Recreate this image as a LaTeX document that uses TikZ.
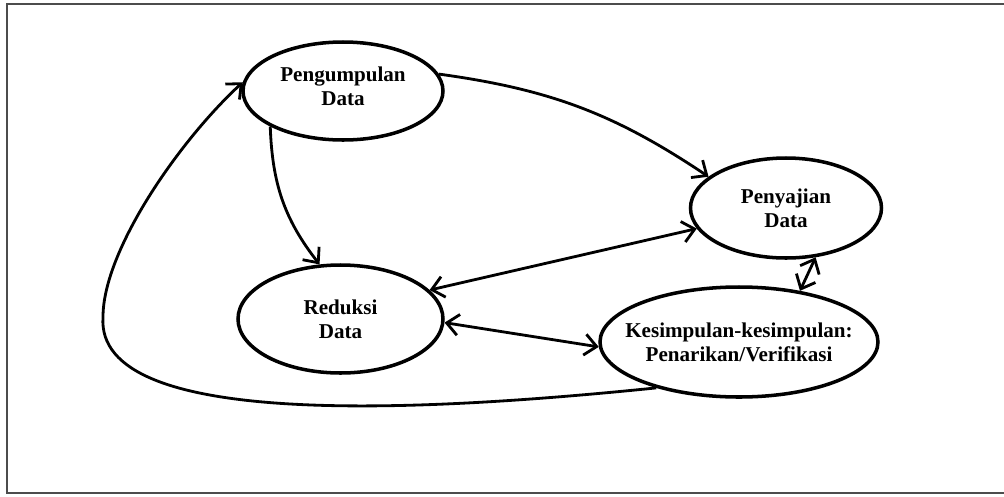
\documentclass[tikz,border=0pt]{standalone}
\usepackage{fontspec}
\setmainfont{Liberation Serif}
\usetikzlibrary{shapes.geometric,arrows.meta}

\begin{document}
\begin{tikzpicture}[
    stage/.style={ellipse, draw, line width=2pt, inner sep=0pt},
    stagetext/.style={align=center, font=\bfseries\fontsize{12}{13.6}\selectfont},
    flow/.style={line width=1.6pt},
    >={Straight Barb[length=2.4mm,width=4.2mm]}
  ]

    % Frame of the page
    \useasboundingbox (0,0) rectangle (20.08,-9.92);
    \draw[black!70, line width=1.1pt] (20.08,-0.08) -- (0.14,-0.08) -- (0.14,-9.86) -- (20.08,-9.86);

    % Draw the four stages
    \node[stage, minimum width=4.0cm, minimum height=1.96cm,
          label={[stagetext, yshift=1mm]center:Pengumpulan\\Data}] (pengumpulan) at (6.86,-1.82) {};
    \node[stage, minimum width=3.82cm, minimum height=2.0cm,
          label={[stagetext]center:Penyajian\\Data}] (penyajian) at (15.72,-4.16) {};
    \node[stage, minimum width=4.1cm, minimum height=2.16cm,
          label={[stagetext]center:Reduksi\\Data}] (reduksi) at (6.81,-6.38) {};
    \node[stage, minimum width=5.56cm, minimum height=2.2cm,
          label={[stagetext]center:Kesimpulan-kesimpulan:\\Penarikan/Verifikasi}] (kesimpulan) at (14.78,-6.84) {};

    % Connect the stages
    \draw[flow,->] (pengumpulan.10) to[bend left=13] (penyajian.158);
    \draw[flow,->] (pengumpulan.206) to[out=-88, in=128] (reduksi.111);
    \draw[flow,<->] (reduksi.18) -- (penyajian.193);
    \draw[flow,<->] (reduksi.-2) -- (kesimpulan.182);
    \draw[flow,<->] (penyajian.-59) -- (kesimpulan.40);

    % Loop back to the start
    \coordinate (loopbend) at (2.06,-6.34);
    \draw[flow,->] (kesimpulan.209) .. controls (8.4,-8.24) and (1.9,-8.6) .. (loopbend)
        .. controls (2.06,-5.0) and (3.6,-2.8) .. (pengumpulan.175);

\end{tikzpicture}
\end{document}
